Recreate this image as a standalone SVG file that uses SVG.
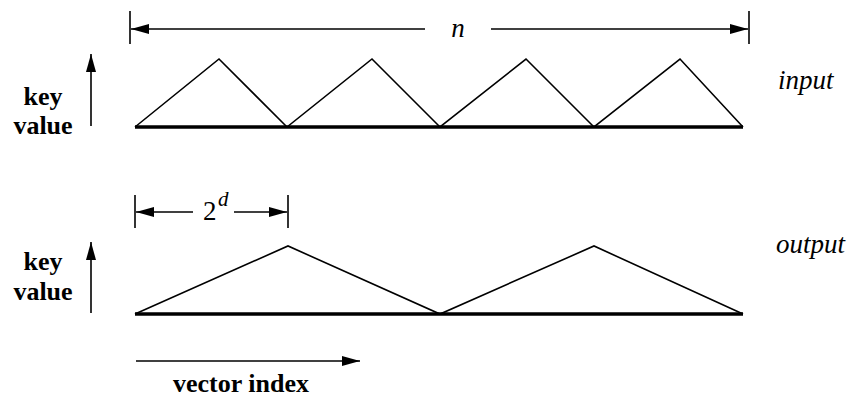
<svg xmlns="http://www.w3.org/2000/svg" width="847" height="398" viewBox="0 0 847 398">
<style>
.ln{stroke:#000;stroke-width:1.6;fill:none}
.base{stroke:#000;stroke-width:3.5;fill:none}
text{font-family:"Liberation Serif","Times New Roman","DejaVu Serif",serif;fill:#000}
.lab{font-weight:bold;font-size:26px}
.it{font-style:italic;font-size:27px}
.up{font-size:27px}
.sup{font-style:italic;font-size:21px}
</style>
<defs>
<marker id="ah" viewBox="0 0 18 10" refX="18" refY="5" markerWidth="18" markerHeight="10" markerUnits="userSpaceOnUse" orient="auto">
<path d="M0,0 L18,5 L0,10 Z" fill="#000"/>
</marker>
</defs>
<g id="connectors">
<line class="ln" x1="130" y1="11" x2="130" y2="44"/>
<line class="ln" x1="749" y1="11" x2="749" y2="44"/>
<line class="ln" x1="425" y1="29" x2="131" y2="29" marker-end="url(#ah)"/>
<line class="ln" x1="491" y1="29" x2="748" y2="29" marker-end="url(#ah)"/>
<line class="ln" x1="135" y1="195" x2="135" y2="228"/>
<line class="ln" x1="288" y1="195" x2="288" y2="228"/>
<line class="ln" x1="193" y1="212" x2="136" y2="212" marker-end="url(#ah)"/>
<line class="ln" x1="234" y1="212" x2="287" y2="212" marker-end="url(#ah)"/>
<line class="ln" x1="91" y1="126" x2="91" y2="54" marker-end="url(#ah)"/>
<line class="ln" x1="91" y1="313" x2="91" y2="242" marker-end="url(#ah)"/>
<line class="ln" x1="136" y1="361" x2="360" y2="361" marker-end="url(#ah)"/>
</g>
<g id="input-wave">
<polyline class="ln" points="135,127 219,59 287,127 372,59 440,127 526,59 594,127 680,59 743,127"/>
<line class="base" x1="135" y1="127" x2="743" y2="127"/>
</g>
<g id="output-wave">
<polyline class="ln" points="135,314 288,246 440,314 594,246 743,314"/>
<line class="base" x1="135" y1="314" x2="743" y2="314"/>
</g>
<g id="labels">
<text class="it" x="458" y="37" text-anchor="middle">n</text>
<text class="up" x="203" y="220">2</text>
<text class="sup" x="218" y="206">d</text>
<text class="lab" x="43" y="105" text-anchor="middle">key</text>
<text class="lab" x="43" y="134" text-anchor="middle">value</text>
<text class="lab" x="43" y="270" text-anchor="middle">key</text>
<text class="lab" x="43" y="300" text-anchor="middle">value</text>
<text class="lab" x="241" y="392" text-anchor="middle">vector index</text>
<text class="it" x="778" y="89">input</text>
<text class="it" x="776" y="253">output</text>
</g>
</svg>
